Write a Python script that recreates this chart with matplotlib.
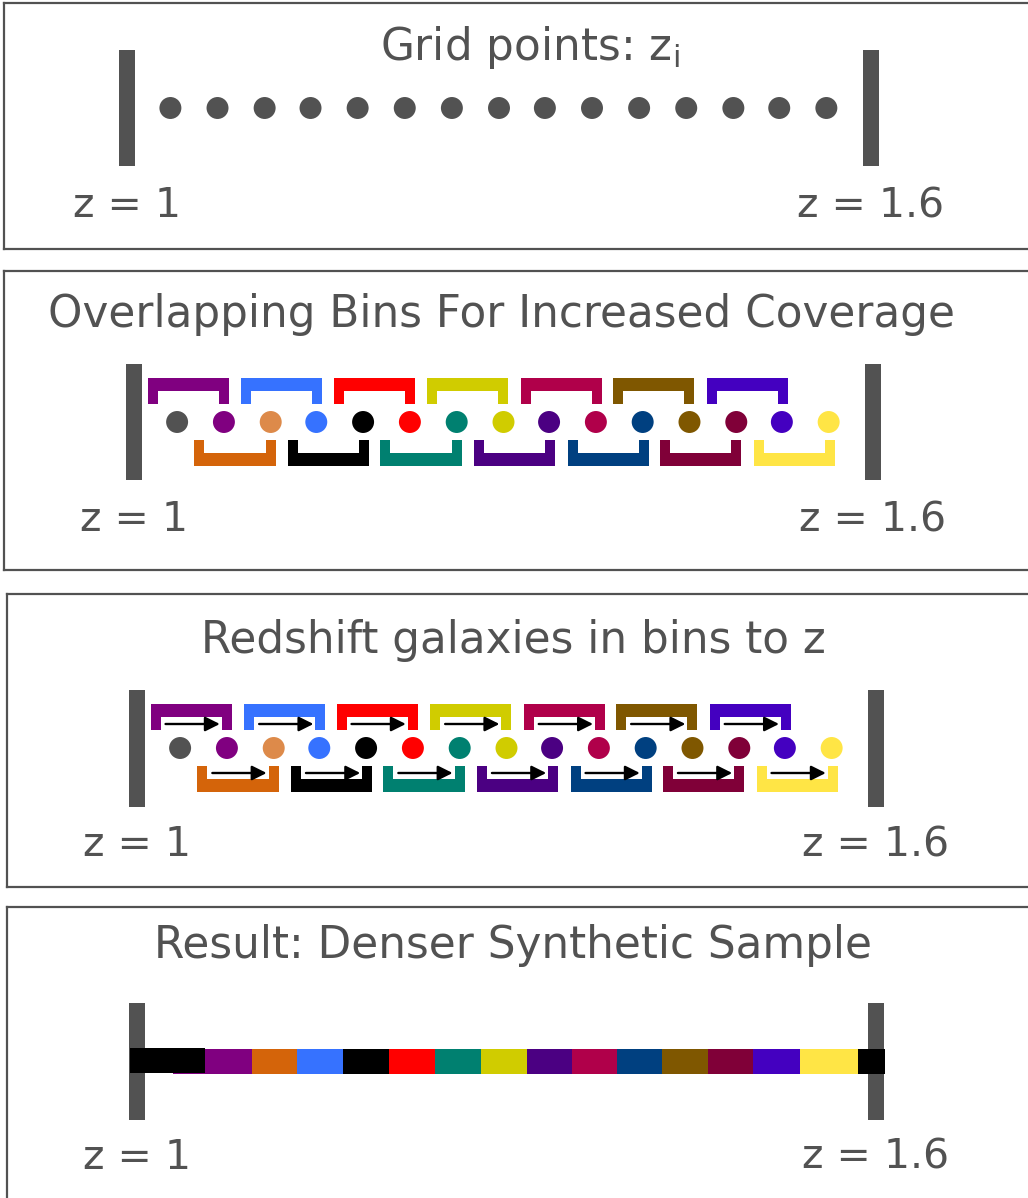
import matplotlib
matplotlib.use('Agg')
import matplotlib.pyplot as plt
from matplotlib.patches import Rectangle

# ---------------- data ----------------
z_min, z_max = 1.0, 1.6
grid_z = [1.035, 1.073, 1.111, 1.148, 1.186, 1.224, 1.262, 1.300,
          1.337, 1.375, 1.413, 1.451, 1.489, 1.526, 1.564]
grid_colors = ['#525252', '#800080', '#DD8A4A', '#3672FF', '#000000',
               '#FF0000', '#008070', '#D0CC00', '#4B0082', '#B0004A',
               '#004080', '#7F5700', '#800038', '#4400C0', '#FFE545']
bin_lo = [1.011, 1.049, 1.087, 1.125, 1.162, 1.200, 1.238,
          1.276, 1.314, 1.352, 1.389, 1.427, 1.465, 1.503]
bin_hi = [1.077, 1.115, 1.153, 1.191, 1.228, 1.266, 1.304,
          1.342, 1.380, 1.418, 1.455, 1.493, 1.531, 1.569]
bin_colors = ['#800080', '#D4640A', '#3672FF', '#000000', '#FF0000',
              '#008070', '#D0CC00', '#4B0082', '#B0004A', '#004080',
              '#7F5700', '#800038', '#4400C0', '#FFE545']
bin_side = ['upper', 'lower'] * 7
result_edges = [1.029, 1.093, 1.130, 1.167, 1.205, 1.242, 1.279, 1.317,
                1.353, 1.390, 1.426, 1.464, 1.500, 1.538, 1.585, 1.607]
result_colors = bin_colors + ['#000000']
result_block = (0.994, 1.055)
titles = ['Grid points: z$_\\mathregular{i}$',
          'Overlapping Bins For Increased Coverage',
          'Redshift galaxies in bins to z',
          'Result: Denser Synthetic Sample']
end_labels = ['z = 1', 'z = 1.6']

# ---------------- layout ----------------
W, H, DPI = 1028, 1198, 100
GRAY = '#525252'
plt.rcParams['font.family'] = ['DejaVu Sans']
fig = plt.figure(figsize=(W / DPI, H / DPI), dpi=DPI)

TITLE_FS = 31.5
LABEL_FS = 29.5


def make_panel(x0, y0, y1, xL, xR):
    x1 = W + 20
    ax = fig.add_axes([x0 / W, 1 - y1 / H, (x1 - x0) / W, (y1 - y0) / H])
    s = (z_max - z_min) / (xR - xL)
    ax.set_xlim(z_min + (x0 - xL) * s, z_min + (x1 - xL) * s)
    ax.set_ylim(y1, y0)
    ax.set_xticks([])
    ax.set_yticks([])
    for sp in ax.spines.values():
        sp.set_color(GRAY)
        sp.set_linewidth(1.6)
    return ax, s


def end_bars(ax, s, ytop, ybot, label_y):
    for z, lab in zip([z_min, z_max], end_labels):
        ax.add_patch(Rectangle((z - 8 * s, ytop), 16 * s, ybot - ytop,
                               color=GRAY, lw=0, zorder=2))
        ax.text(z, label_y, lab, ha='center', va='baseline',
                fontsize=LABEL_FS, color=GRAY)


def dots(ax, y, colors):
    ax.scatter(grid_z, [y] * len(grid_z), s=250, c=colors,
               linewidths=0, zorder=3)


def brackets(ax, s, y_up, y_low, arrows=False, y_arr_up=0, y_arr_low=0):
    for lo, hi, c, side in zip(bin_lo, bin_hi, bin_colors, bin_side):
        ytop = y_up if side == 'upper' else y_low
        bar_y = ytop if side == 'upper' else ytop + 13
        ax.add_patch(Rectangle((lo, bar_y), hi - lo, 13, color=c, lw=0))
        ax.add_patch(Rectangle((lo, ytop), 10 * s, 26, color=c, lw=0))
        ax.add_patch(Rectangle((hi - 10 * s, ytop), 10 * s, 26, color=c, lw=0))
        if arrows:
            ya = y_arr_up if side == 'upper' else y_arr_low
            ax.annotate('', xy=(hi - 12 * s, ya), xytext=(lo + 15 * s, ya),
                        arrowprops=dict(arrowstyle='-|>', color='black',
                                        lw=1.7, mutation_scale=22,
                                        shrinkA=0, shrinkB=0), zorder=4)


# Panel 1: grid points
ax1, s1 = make_panel(4, 3, 249, 127, 871)
end_bars(ax1, s1, 50, 166, 217)
dots(ax1, 108, [GRAY] * len(grid_z))
ax1.text(z_min + (530 - 127) * s1, 60, titles[0], ha='center', va='baseline',
         fontsize=TITLE_FS, color=GRAY)

# Panel 2: overlapping bins
ax2, s2 = make_panel(4, 271, 570, 134, 873)
end_bars(ax2, s2, 364, 480, 531)
dots(ax2, 422, grid_colors)
brackets(ax2, s2, 378, 440)
ax2.text(z_min + (502 - 134) * s2, 327, titles[1], ha='center', va='baseline',
         fontsize=TITLE_FS, color=GRAY)

# Panel 3: redshift galaxies
ax3, s3 = make_panel(7, 594, 887, 137, 876)
end_bars(ax3, s3, 690, 807, 856)
dots(ax3, 748, grid_colors)
brackets(ax3, s3, 704, 766, arrows=True, y_arr_up=724, y_arr_low=773)
ax3.text(z_min + (513 - 137) * s3, 653, titles[2], ha='center', va='baseline',
         fontsize=TITLE_FS, color=GRAY)

# Panel 4: result
ax4, s4 = make_panel(7, 907, 1215, 137, 876)
end_bars(ax4, s4, 1003, 1120, 1169)
for a, b, c in zip(result_edges[:-1], result_edges[1:], result_colors):
    ax4.add_patch(Rectangle((a, 1049), b - a, 25, color=c, lw=0, zorder=3))
ax4.add_patch(Rectangle((result_block[0], 1048), result_block[1] - result_block[0],
                        25, color='black', lw=0, zorder=4))
ax4.text(z_min + (513 - 137) * s4, 958, titles[3], ha='center', va='baseline',
         fontsize=TITLE_FS, color=GRAY)

fig.savefig('out.png', dpi=DPI, facecolor='white')
